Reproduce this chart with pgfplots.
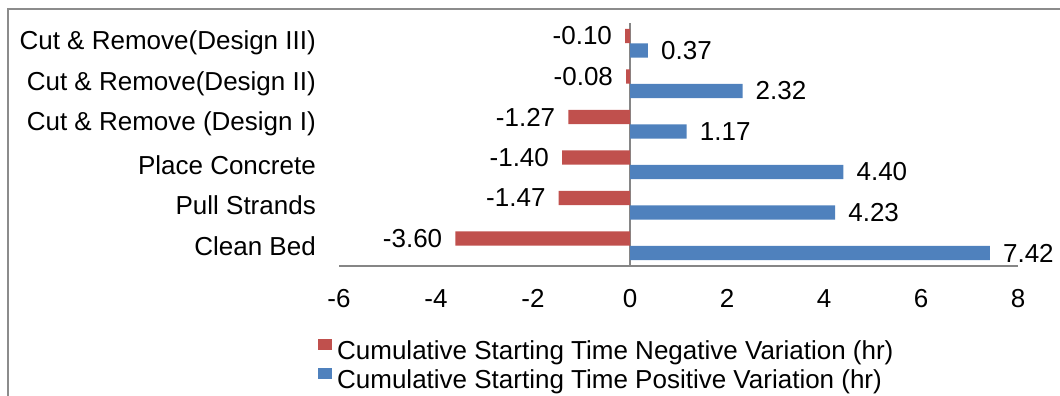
\documentclass[border=0pt]{standalone}
\usepackage{fontspec}
\setmainfont{Liberation Sans}
\usepackage{pgfplots}
\pgfplotsset{compat=1.18}
\definecolor{negred}{RGB}{192,80,77}
\definecolor{posblue}{RGB}{79,129,189}
\definecolor{axgray}{RGB}{134,134,134}
\definecolor{framegray}{RGB}{140,140,140}
\newcommand{\fs}{\fontsize{26bp}{31bp}\selectfont}
\begin{document}
\begin{tikzpicture}
\useasboundingbox (0,0) rectangle (1060bp,396bp);
\draw[framegray, line width=2bp] (8bp,-10bp) -- (8bp,387bp) -- (1080bp,387bp);
\begin{axis}[
  at={(339bp,130bp)}, anchor=south west,
  scale only axis, width=679bp, height=243bp,
  xmin=-6, xmax=8, ymin=-0.5, ymax=5.5,
  xtick={-6,-4,...,8},
  ytick={0,1,2,3,4,5},
  yticklabels={Clean Bed, Pull Strands, Place Concrete, Cut \& Remove (Design I), Cut \& Remove(Design II), Cut \& Remove(Design III)},
  axis x line*=bottom, axis y line*=left,
  x axis line style={axgray, line width=1.5bp},
  y axis line style={draw=none},
  major tick length=0pt,
  /pgf/number format/assume math mode=true,
  tick label style={font=\fs, inner sep=0pt},
  xticklabel style={anchor=north, yshift=-23bp},
  yticklabel style={anchor=east, xshift=-23bp},
  extra x ticks={0}, extra x tick labels={},
  extra x tick style={grid=major, major grid style={axgray, line width=1.5bp}},
  xbar, bar width=0.35,
  nodes near coords={\pgfmathprintnumber[fixed,fixed zerofill,precision=2,assume math mode=true]{\pgfplotspointmeta}},
  nodes near coords style={font=\fs, inner sep=0pt},
  legend style={at={(-0.031,-0.300)}, anchor=north west, draw=none, fill=none,
    font=\fs, inner sep=0pt, row sep=1bp,
    nodes={inner sep=0pt, text height=18bp, text depth=8bp},
    /tikz/every odd column/.append style={column sep=5bp}},
  legend cell align=left,
  legend image code/.code={\fill[#1] (0bp,4bp) rectangle (14bp,15bp);},
]
\addplot[fill=negred, draw=none, bar shift=0.18,
  every node near coord/.append style={anchor=east, xshift=-13bp}]
  coordinates {(-3.60,0) (-1.47,1) (-1.40,2) (-1.27,3) (-0.08,4) (-0.10,5)};
\addlegendentry{Cumulative Starting Time Negative Variation (hr)}
\addplot[fill=posblue, draw=none, bar shift=-0.18,
  every node near coord/.append style={anchor=west, xshift=13bp}]
  coordinates {(7.42,0) (4.23,1) (4.40,2) (1.17,3) (2.32,4) (0.37,5)};
\addlegendentry{Cumulative Starting Time Positive Variation (hr)}
\end{axis}
\end{tikzpicture}
\end{document}
